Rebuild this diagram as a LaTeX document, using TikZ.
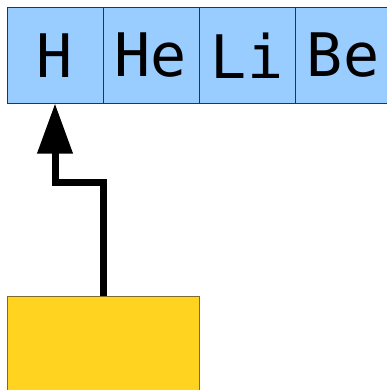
\documentclass[tikz,border=0pt]{standalone}
\usepackage{fontspec}
\newfontfamily\monofont{DejaVu Sans Mono}
\usetikzlibrary{arrows.meta}
\definecolor{cellblue}{HTML}{99CCFF}
\definecolor{boxyellow}{HTML}{FFD320}
\definecolor{boxedge}{HTML}{7F6A2A}
\begin{document}
\begin{tikzpicture}[x=1pt,y=-1pt,
  cell/.style={draw=black!80,line width=1pt,fill=cellblue,minimum width=96pt,minimum height=96pt,inner sep=0pt,outer sep=0pt,anchor=north west,font=\monofont\fontsize{60}{60}\selectfont},
  ybox/.style={draw=boxedge,line width=1pt,fill=boxyellow,minimum width=192pt,minimum height=110pt,inner sep=0pt,outer sep=0pt,anchor=north west},
  conn/.style={line width=7pt,-{Triangle[length=50pt,width=34pt]}}]
\useasboundingbox (0,0) rectangle (386,390);
\node[cell] (h) at (7,7.5) {H};
\node[cell] (he) at (103,7.5) {He};
\node[cell] (li) at (199,7.5) {Li};
\node[cell] (be) at (295,7.5) {Be};
\node[ybox] (y) at (7,296) {};
\draw[conn] (y.north) -- ++(0,-114) -| (h.south);
\end{tikzpicture}
\end{document}
